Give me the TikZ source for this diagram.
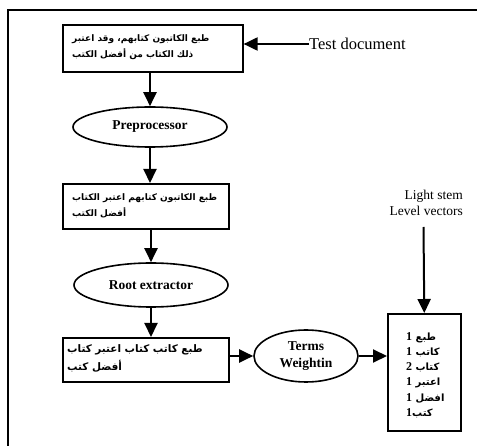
\documentclass[tikz,border=0pt]{standalone}
\usepackage{fontspec}
\setmainfont{Liberation Serif}
\newfontfamily\arabicfont[Script=Arabic]{DejaVu Sans}
\TeXXeTstate=1
\usetikzlibrary{arrows.meta,shapes.geometric}
\begin{document}
\begin{tikzpicture}[x=1pt,y=-1pt,
  box/.style={draw, line width=1.6pt, rectangle, inner sep=0pt},
  oval/.style={draw, ellipse, line width=1.6pt, inner sep=0pt, align=center, font=\bfseries\fontsize{13.5}{17}\selectfont},
  flow/.style={line width=2pt, -{Triangle[width=13pt,length=14pt]}},
  artext/.style={inner sep=0pt, align=left, font=\arabicfont\bfseries\fontsize{9}{16}\selectfont},
  plain/.style={inner sep=0pt, font=\fontsize{16.5}{19}\selectfont}]
\clip (0,0) rectangle (477,446);
\useasboundingbox (0,0) rectangle (477,446);
\draw[line width=2pt] (8,10) rectangle (520,480);

\node[box, minimum width=180pt, minimum height=47pt, anchor=north west] (b1) at (62,24) {};
\node[artext, anchor=west] (t1) at (72,47.5) {\beginR طبع الكاتبون كتابهم، وقد اعتبر\endR\\ \beginR ذلك الكتاب من أفضل الكتب\endR};
\node[plain, anchor=west] (td) at (309,44) {Test document};

\node[oval, minimum width=154pt, minimum height=40pt] (e1) at (150,127) {Preprocessor};

\node[box, minimum width=166pt, minimum height=45pt, anchor=north west] (b2) at (62,183) {};
\node[artext, anchor=west] (t2) at (72,205.5) {\beginR طبع الكاتبون كتابهم اعتبر الكتاب\endR\\ \beginR أفضل الكتب\endR};

\node[oval, minimum width=154pt, minimum height=44pt] (e2) at (151,285) {Root extractor};

\node[box, minimum width=166pt, minimum height=44pt, anchor=north west] (b3) at (62,337) {};
\node[artext, anchor=west, font=\arabicfont\bfseries\fontsize{10.4}{18}\selectfont] (t3) at (67,359) {\beginR طبع كاتب كتاب اعتبر كتاب\endR\\ \beginR أفضل كتب\endR};

\node[oval, minimum width=104pt, minimum height=52pt] (e3) at (306,356) {Terms\\Weightin};

\node[box, minimum width=73pt, minimum height=117pt, anchor=north west] (b4) at (387,313) {};
\node[artext, anchor=west, font=\arabicfont\bfseries\fontsize{10}{15.2}\selectfont] (t4) at (406,375) {\beginR طبع {\rmfamily\fontsize{12}{15}\selectfont 1}\endR\\ \beginR كاتب {\rmfamily\fontsize{12}{15}\selectfont 1}\endR\\ \beginR كتاب {\rmfamily\fontsize{12}{15}\selectfont 2}\endR\\ \beginR اعتبر {\rmfamily\fontsize{12}{15}\selectfont 1}\endR\\ \beginR افضل {\rmfamily\fontsize{12}{15}\selectfont 1}\endR\\ \beginR كتب{\rmfamily\fontsize{12}{15}\selectfont 1}\endR};

\node[inner sep=0pt, align=right, anchor=north east, font=\fontsize{13.5}{15.5}\selectfont] (ls) at (463,190) {Light stem\\Level vectors};
\coordinate (lsa) at (423.5,227);

\draw[flow] (td.west) -- (td.west -| b1.east);
\draw[flow] (e1.north |- b1.south) -- (e1.north);
\draw[flow] (e1.south) -- (e1.south |- b2.north);
\draw[flow] (e2.north |- b2.south) -- (e2.north);
\draw[flow] (e2.south) -- (e2.south |- b3.north);
\draw[flow] (b3.east |- e3.west) -- (e3.west);
\draw[flow] (e3.east) -- (e3.east -| b4.west);
\draw[flow] (lsa) -- (b4.north);
\end{tikzpicture}
\end{document}
